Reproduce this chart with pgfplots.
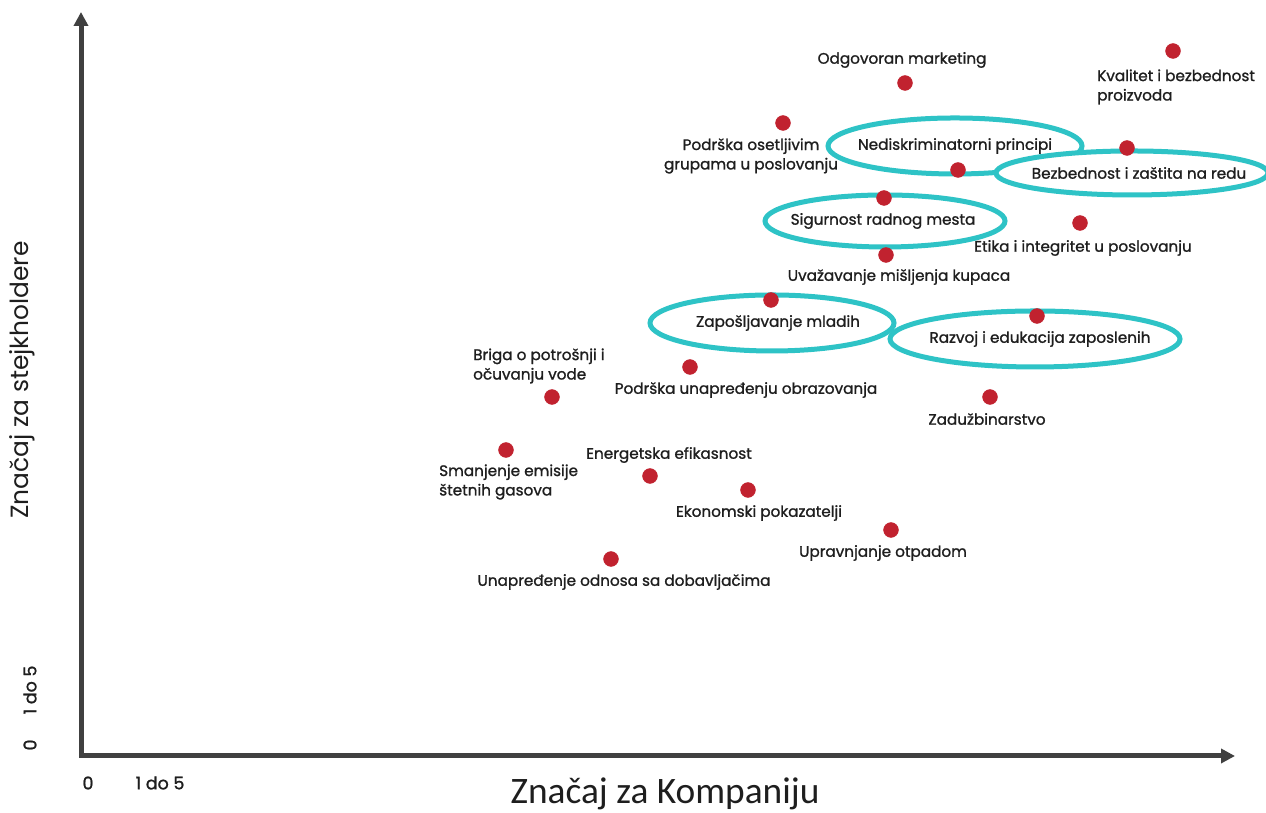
\documentclass[border=0pt]{standalone}
\usepackage{pgfplots}
\pgfplotsset{compat=1.18}
\usetikzlibrary{arrows.meta}
\usepackage{fontspec}
\setmainfont{Poppins}
\newfontfamily\labfont{Poppins}[FakeBold=1.2]
\newfontfamily\calfont{Carlito}
\definecolor{dotred}{HTML}{C1222F}
\definecolor{ellteal}{HTML}{2EC3C6}
\definecolor{axgray}{HTML}{404040}
\definecolor{txt}{HTML}{1E1E1E}
\tikzset{lbl/.style={font=\labfont\fontsize{15.3}{19.5}\selectfont, text=txt, inner sep=0pt}}
\begin{document}
\begin{tikzpicture}[x=1bp,y=1bp]
\path[use as bounding box] (0,0) rectangle (1266,813);
\begin{axis}[at={(0,0)}, anchor=south west, scale only axis,
  width=1266bp, height=813bp,
  xmin=-81, xmax=1185, ymin=-57, ymax=756,
  axis lines=none, clip=false]
% axes
\draw[axgray, line width=5bp, line join=miter,
  {Triangle[width=14bp,length=14bp]}-{Triangle[width=14bp,length=14bp]}]
  (axis cs:0,744) -- (axis cs:0,0) -- (axis cs:1154,0);
% ticks
\node[lbl, font=\labfont\fontsize{17.5}{20}\selectfont] at (axis cs:7,-27) {0};
\node[lbl, font=\labfont\fontsize{17.5}{20}\selectfont] at (axis cs:79,-27) {1 do 5};
\node[lbl, rotate=90, font=\labfont\fontsize{17.5}{20}\selectfont] at (axis cs:-51,11) {0};
\node[lbl, rotate=90, font=\labfont\fontsize{17.5}{20}\selectfont] at (axis cs:-51,66) {1 do 5};
% axis titles
\node[text=txt, font=\calfont\fontsize{37.5}{44}\selectfont] at (axis cs:584,-38) {Značaj za Kompaniju};
\node[text=txt, rotate=90, font=\fontsize{25}{30}\selectfont] at (axis cs:-59,376) {Značaj za stejkholdere};
% dots
\addplot[only marks, mark=*, mark size=7.5pt, dotred, mark options={draw=dotred, fill=dotred}] coordinates {
(1092,705) (824,673) (702,633) (877,586) (1046,608) (803,558) (999,533)
(805,501) (690,456) (956,440) (471,359) (609,389) (909,359) (425,306)
(569,280) (667,266) (810,226) (530,197)};
% plain labels
\node[lbl] at (axis cs:821,696) {Odgovoran marketing};
\node[lbl, anchor=west, align=left] at (axis cs:1016,669) {Kvalitet i bezbednost\\proizvoda};
\node[lbl, align=center] at (axis cs:670,600) {Podrška osetljivim\\grupama u poslovanju};
\node[lbl] at (axis cs:1002,508) {Etika i integritet u poslovanju};
\node[lbl] at (axis cs:818,479) {Uvažavanje mišljenja kupaca};
\node[lbl, anchor=west, align=left] at (axis cs:392,390) {Briga o potrošnji i\\očuvanju vode};
\node[lbl] at (axis cs:665,366) {Podrška unapređenju obrazovanja};
\node[lbl] at (axis cs:906,337) {Zadužbinarstvo};
\node[lbl, anchor=west, align=left] at (axis cs:358,274) {Smanjenje emisije\\štetnih gasova};
\node[lbl] at (axis cs:588,301) {Energetska efikasnost};
\node[lbl] at (axis cs:678,243) {Ekonomski pokazatelji};
\node[lbl] at (axis cs:802,203) {Upravnjanje otpadom};
\node[lbl] at (axis cs:543,174) {Unapređenje odnosa sa dobavljačima};
% ellipses
\draw[ellteal, line width=5bp, fill=white] (axis cs:874,610) ellipse [x radius=127, y radius=28];
\node[lbl] at (axis cs:874,610) {Nediskriminatorni principi};
\draw[ellteal, line width=5bp, fill=white] (axis cs:1051,583) ellipse [x radius=136, y radius=22];
\node[lbl] at (axis cs:1058,583) {Bezbednost i zaštita na redu};
\draw[ellteal, line width=5bp, fill=white] (axis cs:804,535) ellipse [x radius=120, y radius=26];
\node[lbl] at (axis cs:802,535) {Sigurnost radnog mesta};
\draw[ellteal, line width=5bp, fill=white] (axis cs:691,433) ellipse [x radius=122, y radius=28];
\node[lbl] at (axis cs:697,433) {Zapošljavanje mladih};
\draw[ellteal, line width=5bp, fill=white] (axis cs:954,417) ellipse [x radius=145, y radius=28];
\node[lbl] at (axis cs:959,417) {Razvoj i edukacija zaposlenih};
\end{axis}
\end{tikzpicture}
\end{document}
